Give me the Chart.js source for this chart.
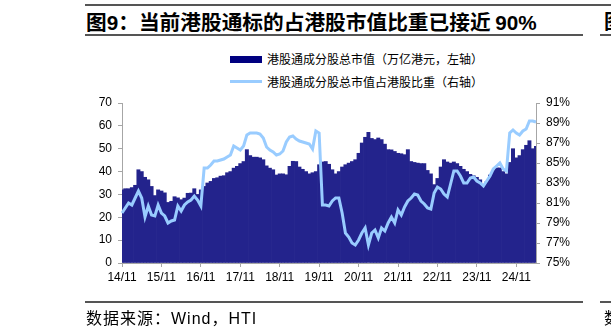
<!DOCTYPE html>
<html>
<head>
<meta charset="utf-8">
<script src="https://cdn.jsdelivr.net/npm/chart.js@4"></script>
<style>
  html, body { margin: 0; padding: 0; background: #fff; }
  body { width: 611px; height: 336px; position: relative; overflow: hidden;
         font-family: "Noto Sans CJK SC", "Noto Sans", sans-serif; }
  #chartBox { position: absolute; left: 0; top: 0; width: 611px; height: 336px; }
  .rule { position: absolute; background: #555; }
  .title { position: absolute; left: 86px; top: 8px; font-size: 20.7px; font-weight: bold;
           color: #000; white-space: nowrap; line-height: 26px; }
  .title .num { font-family: "Liberation Sans", Arial, sans-serif; }
  .legend { position: absolute; left: 230px; font-size: 12px; color: #000; white-space: nowrap; line-height: 16px; }
  .sw { position: absolute; left: 230px; width: 32px; }
  .source { position: absolute; left: 86px; top: 307px; font-size: 16px; letter-spacing: 1px; color: #000; white-space: nowrap; line-height: 20px; }
  .source .lat { font-family: "Liberation Sans", Arial, sans-serif; }
  .edge { position: absolute; left: 604px; white-space: nowrap; color: #000; }
</style>
</head>
<body>
<div class="rule" style="left:85px; top:4px; width:526px; height:2px;"></div>
<div class="title">图<span class="num">9</span>：当前港股通标的占港股市值比重已接近 <span class="num">90%</span></div>
<div class="rule" style="left:85px; top:34px; width:498px; height:1.5px;"></div>
<div class="rule" style="left:600px; top:34px; width:11px; height:1.5px;"></div>
<div class="edge" style="top:8px; font-size:20px; font-weight:bold; line-height:26px;">图</div>

<div class="sw" style="top:56px; height:7px; background:#000080;"></div>
<div class="legend" style="left:267px; top:51px;">港股通成分股总市值（万亿港元，左轴）</div>
<div class="sw" style="top:80px; height:3px; background:#99ccff;"></div>
<div class="legend" style="left:267px; top:74px;">港股通成分股总市值占港股比重（右轴）</div>

<div id="chartBox"><canvas id="c" width="611" height="336"></canvas></div>

<div class="rule" style="left:85px; top:301px; width:498px; height:1.5px;"></div>
<div class="rule" style="left:600px; top:301px; width:11px; height:1.5px;"></div>
<div class="source">数据来源：<span class="lat">Wind</span>，<span class="lat">HTI</span></div>
<div class="edge" style="top:307px; font-size:16px; line-height:20px;">数</div>

<script>
// Monthly observations, first month 2014-11
const startYear = 2014;
const startMonth = 11;

// 港股通成分股总市值（万亿港元）
const marketCap = [
  32, 32.5, 32.5, 33, 34, 40.8, 40, 37.5, 36.4, 33.5, 29.5, 32,
  31.5, 30.7, 26.5, 27, 29, 28.5, 27.7, 28.4, 30.5, 30.6, 32.5, 30,
  32, 33.5, 35, 35.7, 37, 37.3, 38, 38.2, 39.5, 40, 41.5, 42.3,
  43.5, 44.4, 49.6, 47, 46.3, 46.3, 46, 45.2, 42.5, 41.5, 40.8, 38.5,
  39, 39, 38.6, 42.3, 44.5, 44.4, 42, 41, 40, 39, 39.5, 40,
  43, 44.2, 44.4, 43.2, 40.8, 39, 40, 42, 43, 43.7, 44.4, 45.2,
  48, 52.5, 55, 57.2, 54.5, 54, 54.7, 54, 52, 49.6, 49.5, 48.8,
  48, 47.8, 47.4, 49.6, 44.4, 44, 43.7, 43.5, 43.5, 40.5, 39, 34.3,
  37, 42, 45.2, 44.2, 43.7, 44.2, 43.5, 42.3, 41, 40, 38.8, 38.2,
  37.5, 36.4, 34, 35.7, 38.5, 40.5, 41.6, 41.6, 40, 39, 44, 50,
  46, 47, 49.6, 51.5, 53.5, 50, 51
];

// 港股通成分股总市值占港股比重（%）
const shareOfHK = [
  80.0, 80.5, 81.0, 80.8, 81.5, 82.2, 81.5, 79.6, 80.7, 79.8, 79.7, 80.8,
  80.0, 79.7, 79.0, 79.2, 79.3, 80.7, 80.2, 80.8, 81.1, 81.3, 81.7, 81.3,
  80.7, 84.5, 84.5, 84.8, 85.2, 85.2, 85.3, 85.4, 85.6, 85.8, 86.7, 86.5,
  86.3, 86.7, 87.8, 88.0, 88.0, 88.0, 87.9, 87.5, 86.6, 86.3, 86.1, 85.8,
  85.9, 86.2, 87.1, 87.6, 87.7, 87.4, 87.2, 87.1, 87.0, 86.9, 86.4, 88.2,
  88.0, 80.8, 80.8, 80.7, 81.2, 81.5, 81.5, 80.0, 78.0, 77.6, 77.0, 76.8,
  77.3, 78.0, 78.5, 76.8, 78.0, 78.3, 77.5, 78.5, 78.2, 79.0, 79.6, 79.0,
  80.3, 79.8, 80.6, 81.2, 81.5, 81.9, 81.8, 81.2, 80.9, 80.5, 80.4, 82.0,
  82.6, 82.4, 81.9, 81.6, 82.9, 84.2, 84.2, 83.7, 83.0, 83.0, 83.5, 83.6,
  83.2, 83.0, 82.7, 83.2, 83.7, 84.4, 84.7, 85.0, 84.4, 84.2, 88.0, 88.3,
  88.0, 87.8, 88.2, 88.4, 89.2, 89.2, 89.1
];

// Axis tick settings
const leftTicks = { min: 0, max: 70, step: 10 };
const rightTicks = { min: 75, max: 91, step: 2 };
const tickMonth = 11; // x-axis labels shown for each November

// Category labels "yy/mm"
const categories = marketCap.map((_, i) => {
  const total = (startMonth - 1) + i;
  const y = startYear + Math.floor(total / 12);
  const m = (total % 12) + 1;
  return String(y % 100).padStart(2, '0') + '/' + String(m).padStart(2, '0');
});
const isLabelled = (i) => categories[i].endsWith('/' + String(tickMonth).padStart(2, '0'));

const axisGrey = '#a6a6a6';
const tickFont = { family: '"Liberation Sans", Arial, sans-serif', size: 12 };

new Chart(document.getElementById('c'), {
  data: {
    labels: categories,
    datasets: [
      {
        type: 'line',
        data: shareOfHK,
        yAxisID: 'y1',
        borderColor: '#99ccff',
        borderWidth: 3,
        pointRadius: 0,
        tension: 0,
        order: 0
      },
      {
        type: 'bar',
        data: marketCap,
        yAxisID: 'y',
        backgroundColor: '#23238c',
        borderWidth: 0,
        barPercentage: 1,
        categoryPercentage: 1,
        order: 1
      }
    ]
  },
  options: {
    responsive: false,
    devicePixelRatio: 1,
    animation: false,
    layout: { padding: { top: 103, bottom: 43, left: 0, right: 0 } },
    plugins: { legend: { display: false }, tooltip: { enabled: false } },
    scales: {
      x: {
        type: 'category',
        offset: false,
        afterFit: (s) => { s.height = 30; },
        grid: {
          offset: false,
          drawOnChartArea: false,
          drawTicks: true,
          tickLength: 4,
          color: (ctx) => (isLabelled(ctx.index) ? axisGrey : 'rgba(0,0,0,0)')
        },
        border: { display: true, color: axisGrey, width: 1 },
        ticks: {
          autoSkip: false,
          maxRotation: 0,
          minRotation: 0,
          padding: 3,
          color: '#000',
          font: tickFont,
          callback: (v, i) => (isLabelled(i) ? categories[i] : '')
        }
      },
      y: {
        position: 'left',
        min: leftTicks.min,
        max: leftTicks.max,
        afterFit: (s) => { s.width = 122; },
        grid: { drawOnChartArea: false, drawTicks: true, tickLength: 4, color: axisGrey },
        border: { display: true, color: axisGrey, width: 1 },
        ticks: { stepSize: leftTicks.step, padding: 6, color: '#000', font: tickFont }
      },
      y1: {
        position: 'right',
        min: rightTicks.min,
        max: rightTicks.max,
        afterFit: (s) => { s.width = 75; },
        grid: { drawOnChartArea: false, drawTicks: true, tickLength: 4, color: axisGrey },
        border: { display: true, color: axisGrey, width: 1 },
        ticks: {
          stepSize: rightTicks.step, padding: 6, color: '#000', font: tickFont,
          callback: (v) => v + '%'
        }
      }
    }
  }
});
</script>
</body>
</html>
